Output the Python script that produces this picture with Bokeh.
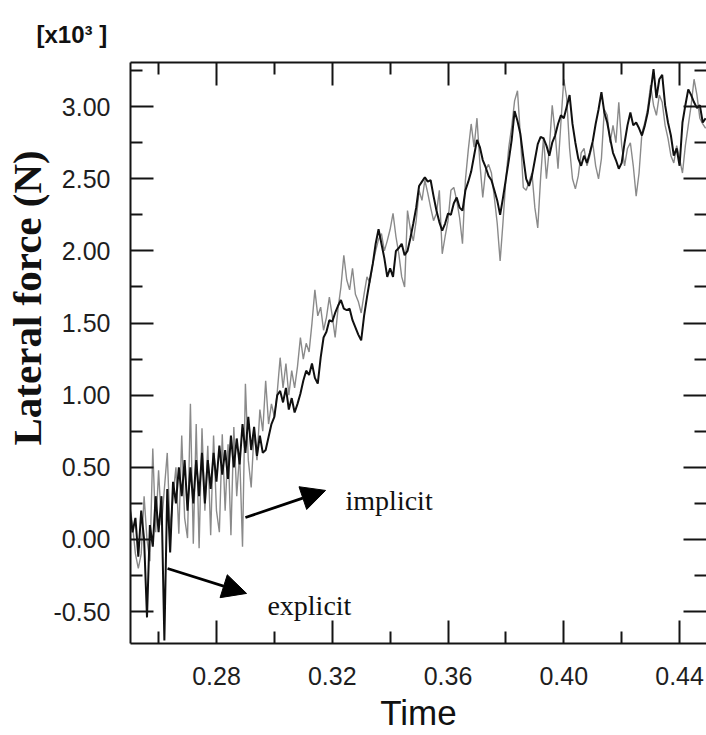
from bokeh.plotting import figure
from bokeh.models import (Range1d, FixedTicker, LinearAxis, Label, Arrow, NormalHead,
                          PrintfTickFormatter, CustomJSTickFormatter, Title)
from bokeh.embed import file_html
from bokeh.resources import INLINE

# ---- data, force in kN ([x10^3] N) ----
time = [
    0.250, 0.251, 0.252, 0.253, 0.254, 0.255, 0.256, 0.257, 0.258, 0.259,
    0.260, 0.261, 0.262, 0.263, 0.264, 0.265, 0.266, 0.267, 0.268, 0.269,
    0.270, 0.271, 0.272, 0.273, 0.274, 0.275, 0.276, 0.277, 0.278, 0.279,
    0.280, 0.281, 0.282, 0.283, 0.284, 0.285, 0.286, 0.287, 0.288, 0.289,
    0.290, 0.291, 0.292, 0.293, 0.294, 0.295, 0.296, 0.297, 0.298, 0.299,
    0.300, 0.301, 0.302, 0.303, 0.304, 0.305, 0.306, 0.307, 0.308, 0.309,
    0.310, 0.311, 0.312, 0.313, 0.314, 0.315, 0.316, 0.317, 0.318, 0.319,
    0.320, 0.321, 0.322, 0.323, 0.324, 0.325, 0.326, 0.327, 0.328, 0.329,
    0.330, 0.331, 0.332, 0.333, 0.334, 0.335, 0.336, 0.337, 0.338, 0.339,
    0.340, 0.341, 0.342, 0.343, 0.344, 0.345, 0.346, 0.347, 0.348, 0.349,
    0.350, 0.351, 0.352, 0.353, 0.354, 0.355, 0.356, 0.357, 0.358, 0.359,
    0.360, 0.361, 0.362, 0.363, 0.364, 0.365, 0.366, 0.367, 0.368, 0.369,
    0.370, 0.371, 0.372, 0.373, 0.374, 0.375, 0.376, 0.377, 0.378, 0.379,
    0.380, 0.381, 0.382, 0.383, 0.384, 0.385, 0.386, 0.387, 0.388, 0.389,
    0.390, 0.391, 0.392, 0.393, 0.394, 0.395, 0.396, 0.397, 0.398, 0.399,
    0.400, 0.401, 0.402, 0.403, 0.404, 0.405, 0.406, 0.407, 0.408, 0.409,
    0.410, 0.411, 0.412, 0.413, 0.414, 0.415, 0.416, 0.417, 0.418, 0.419,
    0.420, 0.421, 0.422, 0.423, 0.424, 0.425, 0.426, 0.427, 0.428, 0.429,
    0.430, 0.431, 0.432, 0.433, 0.434, 0.435, 0.436, 0.437, 0.438, 0.439,
    0.440, 0.441, 0.442, 0.443, 0.444, 0.445, 0.446, 0.447, 0.448, 0.449,
]

explicit = [
    0.22, 0.05, 0.15, -0.12, 0.20, 0.00, -0.54, 0.10, -0.05, 0.30,
    0.05, 0.30, -0.70, 0.35, -0.09, 0.40, 0.25, 0.50, 0.30, 0.55,
    0.20, 0.50, 0.25, 0.55, 0.30, 0.60, 0.25, 0.55, 0.35, 0.60,
    0.40, 0.65, 0.45, 0.62, 0.42, 0.72, 0.50, 0.70, 0.52, 0.80,
    0.60, 0.85, 0.62, 0.78, 0.58, 0.72, 0.60, 0.62, 0.71, 0.80,
    0.85, 1.00, 1.03, 0.95, 1.05, 0.90, 0.98, 0.88, 0.94, 1.01,
    1.10, 1.17, 1.14, 1.22, 1.12, 1.08, 1.26, 1.40, 1.44, 1.52,
    1.51, 1.57, 1.62, 1.66, 1.60, 1.59, 1.60, 1.52, 1.47, 1.42,
    1.38, 1.55, 1.68, 1.80, 1.91, 2.05, 2.15, 2.05, 1.95, 1.82,
    1.88, 1.82, 2.00, 2.02, 2.05, 1.97, 2.00, 2.09, 2.19, 2.30,
    2.45, 2.48, 2.51, 2.48, 2.49, 2.38, 2.28, 2.20, 2.14, 2.19,
    2.26, 2.25, 2.33, 2.37, 2.30, 2.28, 2.42, 2.48, 2.55, 2.66,
    2.77, 2.72, 2.63, 2.58, 2.52, 2.49, 2.42, 2.35, 2.25, 2.37,
    2.50, 2.63, 2.77, 2.97, 2.90, 2.81, 2.65, 2.50, 2.45, 2.52,
    2.63, 2.74, 2.79, 2.78, 2.73, 2.66, 2.75, 2.80, 2.88, 2.94,
    2.92, 3.00, 3.08, 2.88, 2.75, 2.64, 2.59, 2.66, 2.61, 2.68,
    2.76, 2.88, 2.98, 3.10, 2.96, 2.89, 2.78, 2.68, 2.63, 2.57,
    2.61, 2.75, 2.87, 2.96, 2.87, 2.89, 2.85, 2.80, 2.87, 2.96,
    3.10, 3.26, 3.06, 3.19, 3.22, 3.01, 2.89, 2.80, 2.66, 2.71,
    2.59, 2.89, 3.01, 3.12, 3.08, 3.03, 2.99, 3.01, 2.89, 2.92,
]

implicit = [
    0.25, 0.10, -0.10, -0.20, -0.10, 0.30, 0.00, -0.15, 0.63, 0.05,
    0.48, 0.10, 0.35, 0.60, 0.05, 0.30, 0.50, 0.04, 0.72, 0.15,
    0.01, 0.94, -0.03, 0.80, -0.06, 0.77, 0.20, 0.65, 0.03, 0.72,
    0.20, 0.05, 0.73, 0.20, 0.66, 0.03, 0.78, 0.30, 0.60, -0.05,
    1.08, 0.55, 0.36, 0.75, 0.55, 0.90, 0.75, 1.10, 0.80, 0.94,
    0.85, 1.02, 1.26, 1.05, 1.22, 1.00, 1.17, 1.05, 1.20, 1.40,
    1.25, 1.36, 1.30, 1.50, 1.73, 1.55, 1.61, 1.45, 1.54, 1.68,
    1.55, 1.40, 1.60, 1.75, 1.97, 1.80, 1.73, 1.88, 1.70, 1.65,
    1.57, 1.70, 1.82, 1.78, 1.91, 2.00, 2.08, 2.12, 2.00, 2.07,
    2.15, 2.26, 2.10, 1.98, 1.82, 1.75, 2.28, 2.15, 2.07, 2.21,
    2.42, 2.35, 2.49, 2.40, 2.30, 2.21, 2.26, 2.42, 1.98, 2.10,
    2.21, 2.42, 2.44, 2.35, 2.23, 2.05, 2.49, 2.70, 2.88, 2.72,
    2.92, 2.61, 2.37, 2.56, 2.60, 2.54, 2.37, 2.19, 1.93, 2.20,
    2.50, 2.72, 2.86, 3.04, 3.11, 2.80, 2.44, 2.42, 2.48, 2.54,
    2.30, 2.16, 2.51, 2.79, 2.50, 2.71, 3.01, 2.82, 2.57, 2.89,
    3.19, 3.06, 2.71, 2.50, 2.43, 2.52, 2.68, 2.71, 2.59, 2.66,
    2.75, 2.59, 2.50, 2.64, 2.98, 2.94, 2.75, 2.87, 2.75, 3.03,
    2.73, 2.59, 2.71, 2.75, 2.59, 2.38, 2.54, 2.82, 2.89, 2.99,
    3.15, 3.01, 2.94, 3.08, 3.03, 2.87, 2.78, 2.66, 2.61, 2.73,
    2.64, 2.54, 2.73, 2.87, 3.01, 3.19, 3.08, 2.92, 2.88, 2.85,
]

x_ticks = [0.28, 0.32, 0.36, 0.40, 0.44]
x_minor = [0.26, 0.30, 0.34, 0.38, 0.42]
y_ticks = [-0.5, 0.0, 0.5, 1.0, 1.5, 2.0, 2.5, 3.0]
y_minor = [-0.25, 0.25, 0.75, 1.25, 1.75, 2.25, 2.75, 3.25]

x_title = "Time"
y_title = "Lateral force (N)"
scale_text = "[x10\u00b3 ]"

# ---- figure ----
p = figure(width=706, height=735, output_backend="svg", toolbar_location=None,
           x_range=Range1d(0.2503, 0.4493), y_range=Range1d(-0.721, 3.306),
           x_axis_location=None, y_axis_location=None,
           min_border_left=130, min_border_top=62, min_border_bottom=92,
           min_border_right=0, background_fill_color="white",
           border_fill_color="white")
p.outline_line_color = None
p.grid.visible = False

INK = "#141414"


def make_axis(ticks, minor, labels):
    ax = LinearAxis(ticker=FixedTicker(ticks=ticks, minor_ticks=minor))
    ax.axis_line_width = 2
    ax.axis_line_color = INK
    ax.major_tick_in = 23
    ax.major_tick_out = 0
    ax.minor_tick_in = 12
    ax.minor_tick_out = 0
    ax.major_tick_line_width = 2
    ax.minor_tick_line_width = 2
    ax.major_tick_line_color = INK
    ax.minor_tick_line_color = INK
    if labels:
        ax.formatter = PrintfTickFormatter(format="%.2f")
        ax.major_label_text_font = "Liberation Sans"
        ax.major_label_text_font_size = "25px"
        ax.major_label_text_color = "#1e1e1e"
    else:
        ax.formatter = CustomJSTickFormatter(code="return ''")
        ax.major_label_text_font_size = "1px"
        ax.major_label_standoff = 0
    return ax


ax_left = make_axis(y_ticks, y_minor, True)
ax_left.major_label_standoff = 20
ax_bottom = make_axis(x_ticks, x_minor, True)
ax_bottom.major_label_standoff = 23
ax_bottom.axis_label = x_title
ax_bottom.axis_label_text_font = "Liberation Sans"
ax_bottom.axis_label_text_font_size = "35px"
ax_bottom.axis_label_text_font_style = "normal"
ax_bottom.axis_label_text_color = "#111"
ax_bottom.axis_label_standoff = 5
ax_top = make_axis(x_ticks, x_minor, False)
ax_right = make_axis(y_ticks, y_minor, False)
ax_right.axis_line_color = None
p.add_layout(ax_left, "left")
p.add_layout(ax_bottom, "below")
p.add_layout(ax_top, "above")
p.add_layout(ax_right, "right")

# y-axis title, placed above the frame centre as in the original
p.add_layout(Title(text=y_title, align="left", offset=198, standoff=1,
                   text_font="Liberation Serif", text_font_size="41px",
                   text_font_style="bold", text_color="#111"), "left")

# scale factor note at the top left
p.title.text = scale_text
p.title.align = "left"
p.title.offset = -94
p.title.standoff = 30
p.title.text_font = "Liberation Sans"
p.title.text_font_size = "24px"
p.title.text_font_style = "bold"
p.title.text_color = "#111"

# ---- series ----
p.line(time, implicit, line_color="#8a8a8a", line_width=1.4)
p.line(time, explicit, line_color="#101010", line_width=2)

# ---- annotations ----
p.add_layout(Arrow(end=NormalHead(size=24, fill_color="black", line_color="black"),
                   x_start=0.2900, y_start=0.152, x_end=0.3177, y_end=0.340,
                   line_width=2.8, line_color="black"))
p.add_layout(Arrow(end=NormalHead(size=24, fill_color="black", line_color="black"),
                   x_start=0.2631, y_start=-0.201, x_end=0.2904, y_end=-0.374,
                   line_width=2.8, line_color="black"))

p.add_layout(Label(x=0.3246, y=0.270, text="implicit", text_font="Liberation Serif",
                   text_font_size="28px", text_color="#111", text_baseline="alphabetic"))
p.add_layout(Label(x=0.2976, y=-0.457, text="explicit", text_font="Liberation Serif",
                   text_font_size="28px", text_color="#111", text_baseline="alphabetic"))

open("out.html", "w").write(file_html(p, INLINE))
